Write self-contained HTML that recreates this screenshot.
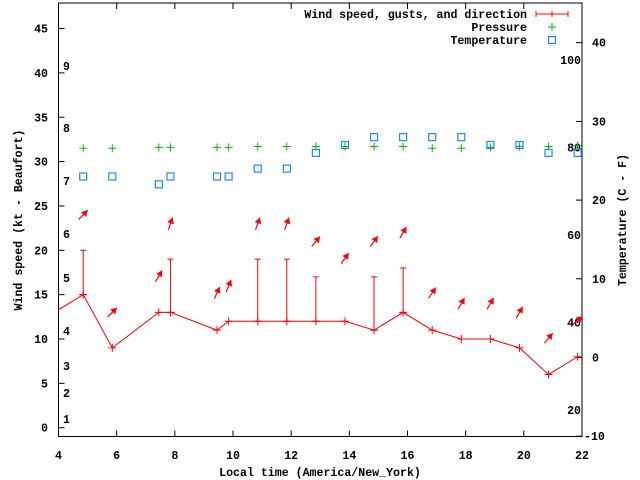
<!DOCTYPE html>
<html><head><meta charset="utf-8"><style>
body{margin:0;background:#fff}
svg{display:block}
text{font-family:"Liberation Mono",monospace;font-weight:bold;font-size:11.6px;fill:#000}
</style></head><body>
<svg id="chart" width="640" height="480" xmlns="http://www.w3.org/2000/svg">
<g id="axes"></g>
<g id="marks"></g>
<g id="legend"></g>
</svg>
<script>
const times=[3.85,4.85,5.85,7.45,7.85,9.45,9.85,10.85,11.85,12.85,13.85,14.85,15.85,16.85,17.85,18.85,19.85,20.85,21.85];
const speeds=[13,15,9,13,13,11,12,12,12,12,12,11,13,11,10,10,9,6,8];
const gusts=[null,20,null,null,19,null,null,19,19,17,null,17,18,null,null,null,null,null,null];
const pressure=[null,31.5,31.5,31.6,31.6,31.6,31.6,31.7,31.7,31.7,31.7,31.7,31.7,31.5,31.5,31.6,31.7,31.7,31.8];
const tempC=[null,23,23,22,23,23,23,24,24,26,27,28,28,28,28,27,27,26,26];
const arrowY=[null,24,13,17.1,23,15.2,16,23,23,21,19.1,21,22,15.2,14,14,13,10.1,12.1];
const arrowDir=[null,45,45,30,18,25,22,20,20,40,35,35,30,35,30,30,30,40,50];
const xTicks=[4,6,8,10,12,14,16,18,20,22];
const yTicks=[0,5,10,15,20,25,30,35,40,45];
const y2Ticks=[-10,0,10,20,30,40];
const beaufort=[[1,419],[2,393],[3,366],[4,331],[5,278],[6,234],[7,181],[8,128],[9,66]];
const fahr=[100,80,60,40,20];

const NS="http://www.w3.org/2000/svg";
const L=58.5,R=582,T=3,B=436.5;
const X=v=>L+(v-4)*(R-L)/18;
const Y=v=>427.7-v*8.87;
const Y2=v=>357.5-v*7.87;
const F2Y=f=>Y2((f-32)*5/9);
function mk(tag,attrs,parent,txt){const e=document.createElementNS(NS,tag);for(const k in attrs)e.setAttribute(k,attrs[k]);if(txt!==undefined)e.textContent=txt;parent.appendChild(e);return e;}
const ax=document.getElementById('axes'),mg=document.getElementById('marks'),lg=document.getElementById('legend');

let f=mk('rect',{x:L,y:T,width:R-L,height:B-T,fill:'none',stroke:'#000','stroke-width':1},ax);


xTicks.forEach(t=>{
  let l=mk('path',{d:`M${X(t)},${B}v-6M${X(t)},${T}v6`,stroke:'#000'},ax);
  
  
  let tx=mk('text',{x:X(t),y:459,'text-anchor':'middle'},ax,t);
  
  
});
yTicks.forEach(t=>{
  let l=mk('path',{d:`M${L},${Y(t)}h6`,stroke:'#000'},ax);
  
  
  let tx=mk('text',{x:48,y:Y(t)+4,'text-anchor':'end'},ax,t);
  
  
});
y2Ticks.forEach(t=>{
  let l=mk('path',{d:`M${R},${Y2(t)}h-6`,stroke:'#000'},ax);
  
  
  let tx=mk('text',{x:292*2,y:Y2(t)+4,'text-anchor':'start',dx:(t<0?0:8)},ax,t);
  
  
});
beaufort.forEach(b=>{
  let tx=mk('text',{x:63,y:b[1]+4},ax,b[0]);
  
  
});
fahr.forEach(v=>{
  let tx=mk('text',{x:581,y:F2Y(v)+4,'text-anchor':'end'},ax,v);
  
  
});
let xt=mk('text',{x:320,y:476,'text-anchor':'middle'},ax,'Local time (America/New_York)');


let yt=mk('text',{x:0,y:0,'text-anchor':'middle',transform:'translate(22,220) rotate(-90)'},ax,'Wind speed (kt - Beaufort)');


let y2t=mk('text',{x:0,y:0,'text-anchor':'middle',transform:'translate(626,220) rotate(-90)'},ax,'Temperature (C - F)');



// clip
const defs=mk('defs',{},mg);
const cp=mk('clipPath',{id:'pc'},defs);
mk('rect',{x:L,y:T,width:R-L,height:B-T},cp);
const g=mk('g',{'clip-path':'url(#pc)'},mg);

// wind line
let d=times.map((t,i)=>(i?'L':'M')+X(t)+','+Y(speeds[i])).join('');
let wl=mk('path',{d:d,fill:'none',stroke:'#f00','stroke-width':1},g);


times.forEach((t,i)=>{
  const x=X(t),y=Y(speeds[i]);
  let p=mk('path',{d:`M${x-4},${y}h8M${x},${y-4}v8`,stroke:'#f00'},g);
  
  
  if(gusts[i]!==null){
    const yg=Y(gusts[i]);
    let e=mk('path',{d:`M${x},${y}V${yg}M${x-3},${yg}h6M${x-3},${y}h6`,stroke:'#f00'},g);
    
    
  }
  if(arrowY[i]!==null){
    const cx=x,cy=Y(arrowY[i]),a=arrowDir[i]*Math.PI/180,len=13;
    const dx=Math.sin(a)*len/2,dy=-Math.cos(a)*len/2;
    const hx=cx+dx,hy=cy+dy,ux=Math.sin(a),uy=-Math.cos(a);
    const bx=hx-ux*6,by=hy-uy*6;
    let ar=mk('g',{},g);
    
    
    mk('line',{x1:cx-dx,y1:cy-dy,x2:hx,y2:hy,stroke:'#f00','stroke-width':1.2},ar);
    mk('polygon',{points:`${hx},${hy} ${bx+uy*3.5},${by-ux*3.5} ${bx-uy*3.5},${by+ux*3.5}`,fill:'#f00'},ar);
  }
  if(pressure[i]!==null){
    const py=Y(pressure[i]);
    let p2=mk('path',{d:`M${x-4},${py}h8M${x},${py-4}v8`,stroke:'#0b0'},g);
    
    
  }
  if(tempC[i]!==null){
    const ty=Y2(tempC[i]);
    let s=mk('rect',{x:x-3.5,y:ty-3.5,width:7,height:7,fill:'none',stroke:'#1e88ff','stroke-width':1.2},g);
    
    
  }
});

// legend
const items=[['Wind speed, gusts, and direction',14],['Pressure',27],['Temperature',40]];
items.forEach((it,k)=>{
  let tx=mk('text',{x:527,y:it[1]+4,'text-anchor':'end'},lg,it[0]);
  
  
});
let l1=mk('path',{d:'M536,14h32M536,11v6M568,11v6M552,11v6',stroke:'#f00'},lg);


let l2=mk('path',{d:'M548,27h8M552,23v8',stroke:'#0b0'},lg);


let l3=mk('rect',{x:548.5,y:36.5,width:7,height:7,fill:'none',stroke:'#1e88ff','stroke-width':1.2},lg);


</script>
</body></html>
